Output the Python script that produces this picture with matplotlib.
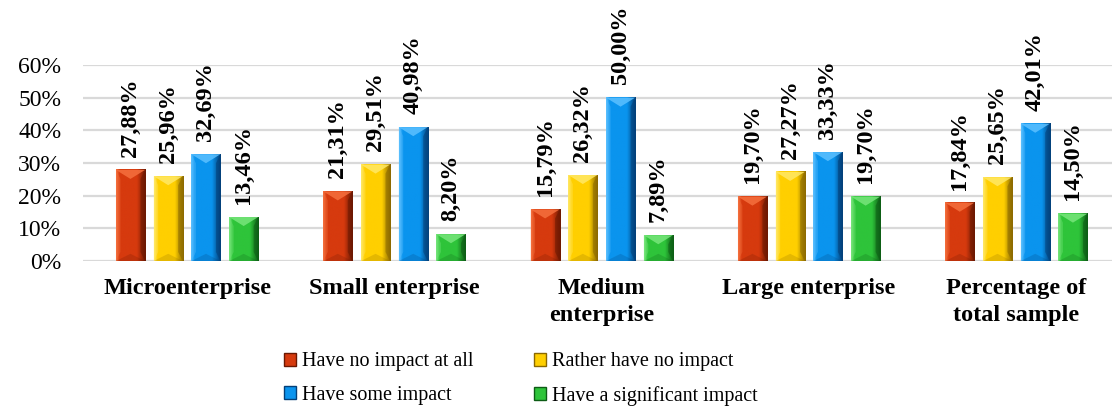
import numpy as np
import matplotlib
matplotlib.use("Agg")
import matplotlib.pyplot as plt
from matplotlib.patches import Polygon, Patch
from matplotlib.colors import LinearSegmentedColormap

categories = ["Microenterprise", "Small enterprise", "Medium\nenterprise",
              "Large enterprise", "Percentage of\ntotal sample"]
series_names = ["Have no impact at all", "Rather have no impact",
                "Have some impact", "Have a significant impact"]
no_impact = [27.88, 21.31, 15.79, 19.70, 17.84]
rather_no_impact = [25.96, 29.51, 26.32, 27.27, 25.65]
some_impact = [32.69, 40.98, 50.00, 33.33, 42.01]
significant_impact = [13.46, 8.20, 7.89, 19.70, 14.50]
y_ticks = [0, 10, 20, 30, 40, 50, 60]

series_values = [no_impact, rather_no_impact, some_impact, significant_impact]
# (base, light, dark) for the bevelled bars
palettes = [
    ("#D63A0E", "#F5703E", "#6A1802"),
    ("#FFCF00", "#FFE866", "#8A6800"),
    ("#0A94EE", "#5CC0FF", "#033F78"),
    ("#2EC43A", "#78E67C", "#0D5C15"),
]

W, H, DPI = 1112, 412, 100
fig = plt.figure(figsize=(W / DPI, H / DPI), dpi=DPI)
ax_left, ax_right, ax_bottom, ax_top = 83.4, 1120.0, 261.0, 65.0
ax = fig.add_axes([ax_left / W, 1 - ax_bottom / H,
                   (ax_right - ax_left) / W, (ax_bottom - ax_top) / H])

XMIN, XMAX, YMIN, YMAX = -0.5, len(categories) - 0.5, 0, 60
px_x = (XMAX - XMIN) / (ax_right - ax_left)
px_y = (YMAX - YMIN) / (ax_bottom - ax_top)

bar_w = 0.14
pitch = 0.182
x = np.arange(len(categories))


def bevel_bar(xl, width, height, base, light, dark):
    x0, x1, y0, y1 = xl, xl + width, 0.0, height
    xc = (x0 + x1) / 2
    grad = np.linspace(0, 1, 64).reshape(1, -1)
    cmap = LinearSegmentedColormap.from_list(
        "b", [(0, light), (0.12, base), (0.7, base), (1, dark)])
    ax.imshow(grad, extent=(x0, x1, y0, y1), aspect="auto", cmap=cmap,
              interpolation="bilinear", zorder=2)
    bx = 4.5 * px_x
    by = min(9 * px_y, height / 2)
    # right dark face
    ax.add_patch(Polygon([(x1, y0), (x1, y1), (x1 - bx, y1 - by),
                          (x1 - bx, y0 + by)], closed=True,
                         facecolor=dark, alpha=0.55, lw=0, zorder=3))
    # left light face
    ax.add_patch(Polygon([(x0, y0), (x0, y1), (x0 + bx, y1 - by),
                          (x0 + bx, y0 + by)], closed=True,
                         facecolor=light, alpha=0.35, lw=0, zorder=3))
    # top light chevron
    ax.add_patch(Polygon([(x0, y1), (x1, y1), (xc, y1 - by)], closed=True,
                         facecolor=light, alpha=0.85, lw=0, zorder=3))
    # bottom shaded chevron
    ax.add_patch(Polygon([(x0, y0), (x1, y0), (xc, y0 + by * 0.8)],
                         closed=True, facecolor=dark, alpha=0.22, lw=0,
                         zorder=3))


for i, (vals, (base, light, dark)) in enumerate(zip(series_values, palettes)):
    offs = (i - 1.5) * pitch
    for xi, v in zip(x, vals):
        xl = xi + offs - bar_w / 2
        bevel_bar(xl, bar_w, v, base, light, dark)
        ax.annotate(f"{v:.2f}%".replace(".", ","), xy=(xi + offs, v),
                    xytext=(0, 9.5), textcoords="offset points",
                    rotation=90, ha="center", va="bottom",
                    fontsize=17.5, fontweight="bold",
                    family="Liberation Serif", color="black",
                    annotation_clip=False, zorder=5)

ax.set_xlim(XMIN, XMAX)
ax.set_ylim(YMIN, YMAX)
ax.set_yticks(y_ticks)
ax.set_yticklabels([f"{t}%" for t in y_ticks], family="Liberation Serif",
                   fontsize=17)
ax.set_xticks(x)
ax.set_xticklabels(categories, family="Liberation Serif", fontsize=17.5,
                   fontweight="bold", linespacing=1.4, va="top")
ax.tick_params(axis="both", length=0)
ax.tick_params(axis="x", pad=12)
ax.tick_params(axis="y", pad=16)
for lab in ax.get_yticklabels():
    lab.set_horizontalalignment("right")
ax.yaxis.grid(True, color="#D9D9D9", linewidth=1.6, zorder=0)
ax.set_axisbelow(True)
for s in ax.spines.values():
    s.set_visible(False)

# legend filled row-wise: two entries per row
order = [0, 2, 1, 3]
handles = [Patch(facecolor=palettes[k][0], edgecolor=palettes[k][2],
                 linewidth=1.0) for k in order]
labels = [series_names[k] for k in order]
fig.legend(handles, labels, loc="center",
           bbox_to_anchor=(521 / W, 1 - 379 / H), ncol=2, frameon=False,
           prop={"family": "Liberation Serif", "size": 14.5},
           handlelength=0.6, handleheight=0.6, handletextpad=0.3,
           columnspacing=3.0, labelspacing=0.7)

fig.savefig("out.png", dpi=DPI)
